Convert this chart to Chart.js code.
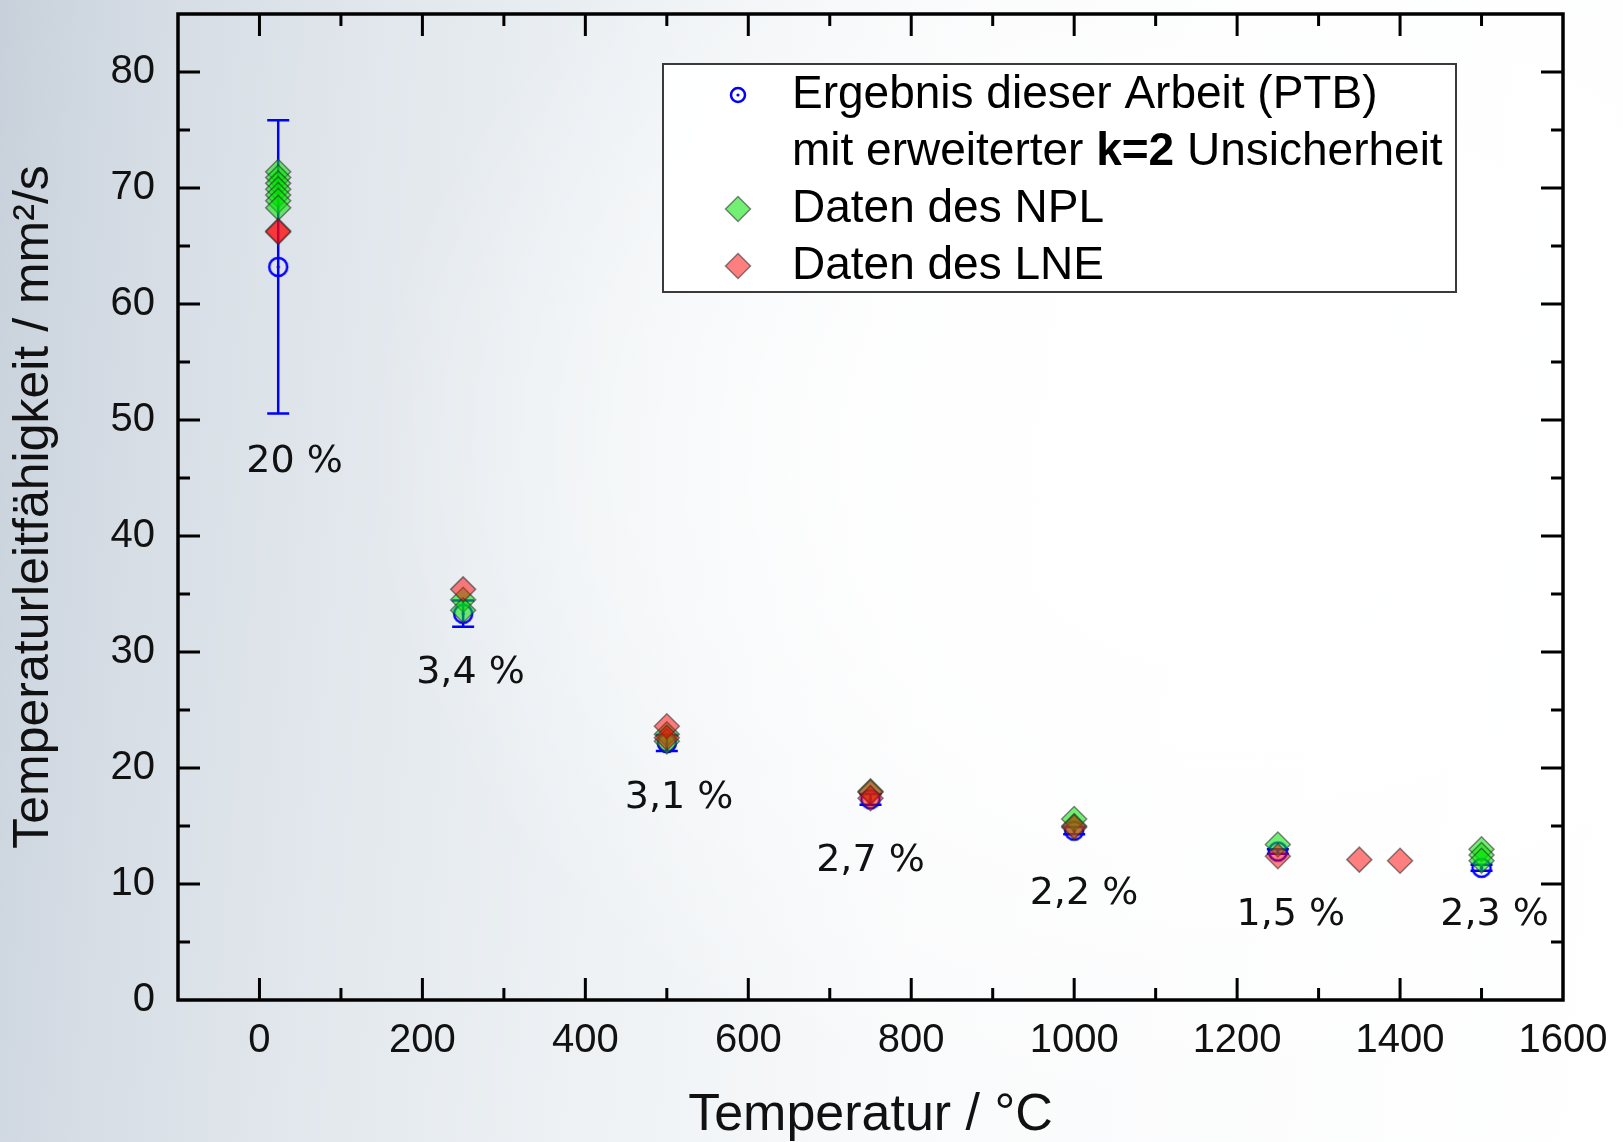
<!DOCTYPE html>
<html>
<head>
<meta charset="utf-8">
<title>Temperaturleitfähigkeit</title>
<script src="https://cdn.jsdelivr.net/npm/chart.js@4.4.1/dist/chart.umd.min.js"></script>
<style>
  html, body { margin: 0; padding: 0; }
  body {
    width: 1623px;
    height: 1142px;
    overflow: hidden;
    background:
      radial-gradient(ellipse 900px 700px at 78% 40%, rgba(255,255,255,1) 0%, rgba(255,255,255,0.85) 45%, rgba(255,255,255,0) 100%),
      linear-gradient(95deg, #c8d1db 0%, #d6dde5 10%, #e1e7ec 22%, #edf1f4 38%, #f9fafb 58%, #ffffff 100%);
  }
  #chart { display: block; }
</style>
</head>
<body>
<canvas id="chart" width="1623" height="1142"></canvas>
<script>
// PTB results: temperature (°C), diffusivity (mm²/s), expanded k=2 uncertainty (%)
const ptbTemp = [23, 250, 500, 750, 1000, 1250, 1500];
const ptbValue = [63.2, 33.3, 22.15, 17.3, 14.6, 12.8, 11.4];
const ptbRelUnc = [20, 3.4, 3.1, 2.7, 2.2, 1.5, 2.3];

// NPL data
const nplTemp = [23, 23, 23, 23, 23, 23, 23, 250, 250, 500, 500, 750, 1000, 1000, 1250, 1500, 1500, 1500];
const nplValue = [71.4, 70.9, 70.4, 69.9, 69.4, 68.9, 68.3, 34.5, 33.6, 22.9, 22.3, 18.0, 15.6, 15.0, 13.4, 13.0, 12.5, 12.0];

// LNE data
const lneTemp = [23, 23, 250, 500, 500, 750, 750, 1000, 1250, 1350, 1400];
const lneValue = [66.3, 66.2, 35.4, 23.6, 22.6, 17.9, 17.4, 14.9, 12.4, 12.1, 12.0];

// where the uncertainty labels sit, in data units (one per PTB point)
const uncLabelX = [43, 259, 515, 750, 1012, 1266, 1516];
const uncLabelY = [46.4, 28.2, 17.4, 12.0, 9.1, 7.3, 7.3];

const xTicks = [0, 200, 400, 600, 800, 1000, 1200, 1400, 1600];
const yTicks = [0, 10, 20, 30, 40, 50, 60, 70, 80];

const axisFont = "'Liberation Sans', Arial, sans-serif";
const noteFont = "'DejaVu Sans', Verdana, sans-serif";

const BLUE = "#0000ff";
const GREEN = "rgba(0, 225, 0, 0.55)";
const RED = "rgba(255, 0, 0, 0.5)";
const EDGE = "rgba(40, 40, 40, 0.55)";

function toPoints(xs, ys) {
  return xs.map((x, i) => ({ x: x, y: ys[i] }));
}

function fmtPercent(v) {
  return String(v).replace(".", ",") + " %";
}

// hollow circle with a centre dot for the PTB marker
function makeRing(r) {
  const c = document.createElement("canvas");
  const s = Math.ceil(r * 2 + 6);
  c.width = s;
  c.height = s;
  const g = c.getContext("2d");
  g.strokeStyle = BLUE;
  g.lineWidth = 2.5;
  g.beginPath();
  g.arc(s / 2, s / 2, r, 0, Math.PI * 2);
  g.stroke();
  g.fillStyle = BLUE;
  g.beginPath();
  g.arc(s / 2, s / 2, 1.6, 0, Math.PI * 2);
  g.fill();
  return c;
}
const ringPlot = makeRing(9);
const ringLegend = makeRing(7);

// error bars under the PTB points
const errorBars = {
  id: "errorBars",
  beforeDatasetsDraw(chart) {
    const { ctx, scales } = chart;
    ctx.save();
    ctx.strokeStyle = BLUE;
    ctx.lineWidth = 2.5;
    ptbTemp.forEach((t, i) => {
      const err = ptbValue[i] * ptbRelUnc[i] / 100;
      const x = scales.x.getPixelForValue(t);
      const y1 = scales.y.getPixelForValue(ptbValue[i] + err);
      const y2 = scales.y.getPixelForValue(ptbValue[i] - err);
      ctx.beginPath();
      ctx.moveTo(x, y1);
      ctx.lineTo(x, y2);
      ctx.moveTo(x - 11, y1);
      ctx.lineTo(x + 11, y1);
      ctx.moveTo(x - 11, y2);
      ctx.lineTo(x + 11, y2);
      ctx.stroke();
    });
    ctx.restore();
  }
};

// closed frame with inward ticks on all four sides
const frame = {
  id: "frame",
  afterDatasetsDraw(chart) {
    const { ctx, chartArea: a, scales } = chart;
    const major = 22, minor = 12;
    ctx.save();
    ctx.strokeStyle = "#000";
    ctx.lineWidth = 3.5;
    ctx.strokeRect(a.left, a.top, a.right - a.left, a.bottom - a.top);
    ctx.lineWidth = 3;
    ctx.beginPath();
    for (let v = 0; v < 1600; v += 100) {
      const x = scales.x.getPixelForValue(v);
      const len = v % 200 === 0 ? major : minor;
      ctx.moveTo(x, a.bottom);
      ctx.lineTo(x, a.bottom - len);
      ctx.moveTo(x, a.top);
      ctx.lineTo(x, a.top + len);
    }
    for (let v = 5; v < 85; v += 5) {
      const y = scales.y.getPixelForValue(v);
      const len = v % 10 === 0 ? major : minor;
      ctx.moveTo(a.left, y);
      ctx.lineTo(a.left + len, y);
      ctx.moveTo(a.right, y);
      ctx.lineTo(a.right - len, y);
    }
    ctx.stroke();
    ctx.restore();
  }
};

// relative uncertainty next to each PTB point
const uncLabels = {
  id: "uncLabels",
  afterDatasetsDraw(chart) {
    const { ctx, scales } = chart;
    ctx.save();
    ctx.fillStyle = "#111";
    ctx.font = "38px " + noteFont;
    ctx.textAlign = "center";
    ctx.textBaseline = "middle";
    ptbRelUnc.forEach((u, i) => {
      ctx.fillText(fmtPercent(u), scales.x.getPixelForValue(uncLabelX[i]), scales.y.getPixelForValue(uncLabelY[i]));
    });
    ctx.restore();
  }
};

function drawDiamond(ctx, x, y, r, fill) {
  ctx.beginPath();
  ctx.moveTo(x, y - r);
  ctx.lineTo(x + r, y);
  ctx.lineTo(x, y + r);
  ctx.lineTo(x - r, y);
  ctx.closePath();
  ctx.fillStyle = fill;
  ctx.fill();
  ctx.strokeStyle = EDGE;
  ctx.lineWidth = 1.5;
  ctx.stroke();
}

// boxed legend inside the plot, second line with bold k=2
const boxLegend = {
  id: "boxLegend",
  afterDraw(chart) {
    const { ctx, chartArea: a } = chart;
    const left = a.left + 485, top = a.top + 50, w = 793, h = 228;
    const mx = left + 75, tx = left + 129;
    const rows = [top + 31, top + 88, top + 145, top + 202];
    ctx.save();
    ctx.fillStyle = "rgba(255,255,255,0.92)";
    ctx.fillRect(left, top, w, h);
    ctx.strokeStyle = "#3a3a3a";
    ctx.lineWidth = 2;
    ctx.strokeRect(left, top, w, h);

    ctx.drawImage(ringLegend, mx - ringLegend.width / 2, rows[0] - ringLegend.height / 2);
    drawDiamond(ctx, mx, rows[2], 12.5, GREEN);
    drawDiamond(ctx, mx, rows[3], 12.5, RED);

    const normal = "46px " + axisFont;
    const bold = "bold 46px " + axisFont;
    ctx.fillStyle = "#000";
    ctx.textBaseline = "middle";
    ctx.textAlign = "left";
    ctx.font = normal;
    ctx.fillText("Ergebnis dieser Arbeit (PTB)", tx, rows[0]);

    let x = tx;
    const parts = [["mit erweiterter ", normal], ["k=2", bold], [" Unsicherheit", normal]];
    parts.forEach(([s, f]) => {
      ctx.font = f;
      ctx.fillText(s, x, rows[1]);
      x += ctx.measureText(s).width;
    });

    ctx.font = normal;
    ctx.fillText("Daten des NPL", tx, rows[2]);
    ctx.fillText("Daten des LNE", tx, rows[3]);
    ctx.restore();
  }
};

new Chart(document.getElementById("chart"), {
  type: "scatter",
  data: {
    datasets: [
      {
        label: "Daten des LNE",
        data: toPoints(lneTemp, lneValue),
        pointStyle: "rectRot",
        pointRadius: 12.5,
        backgroundColor: RED,
        borderColor: EDGE,
        borderWidth: 1.5,
        order: 0,
      },
      {
        label: "Daten des NPL",
        data: toPoints(nplTemp, nplValue),
        pointStyle: "rectRot",
        pointRadius: 12.5,
        backgroundColor: GREEN,
        borderColor: EDGE,
        borderWidth: 1.5,
        order: 1,
      },
      {
        label: "Ergebnis dieser Arbeit (PTB)",
        data: toPoints(ptbTemp, ptbValue),
        pointStyle: ringPlot,
        pointRadius: 10,
        order: 2,
      },
    ],
  },
  options: {
    responsive: false,
    animation: false,
    devicePixelRatio: 1,
    layout: {
      padding: { left: 0, top: 12, right: 60, bottom: 0 },
    },
    plugins: {
      legend: { display: false },
      tooltip: { enabled: false },
    },
    scales: {
      x: {
        type: "linear",
        min: -100,
        max: 1600,
        grid: { display: false, drawTicks: false },
        border: { display: false },
        afterBuildTicks: (scale) => {
          scale.ticks = xTicks.map((v) => ({ value: v }));
        },
        afterFit: (scale) => {
          scale.height = 142;
          scale.paddingLeft = 0;
          scale.paddingRight = 0;
        },
        ticks: {
          color: "#111",
          padding: 17,
          maxRotation: 0,
          font: { family: axisFont, size: 40 },
          callback: (v) => String(v),
        },
        title: {
          display: true,
          text: "Temperatur / °C",
          color: "#111",
          padding: { top: 0, bottom: 0 },
          font: { family: axisFont, size: 52, lineHeight: 1 },
        },
      },
      y: {
        type: "linear",
        min: 0,
        max: 85,
        grid: { display: false, drawTicks: false },
        border: { display: false },
        afterBuildTicks: (scale) => {
          scale.ticks = yTicks.map((v) => ({ value: v }));
        },
        afterFit: (scale) => {
          scale.width = 178;
          scale.paddingTop = 0;
          scale.paddingBottom = 0;
        },
        ticks: {
          color: "#111",
          padding: 23,
          font: { family: axisFont, size: 40 },
          callback: (v) => String(v),
        },
        title: {
          display: true,
          text: "Temperaturleitfähigkeit / mm²/s",
          color: "#111",
          padding: { top: 4, bottom: 0 },
          font: { family: axisFont, size: 50, lineHeight: 1.2 },
        },
      },
    },
  },
  plugins: [errorBars, frame, uncLabels, boxLegend],
});
</script>
</body>
</html>
